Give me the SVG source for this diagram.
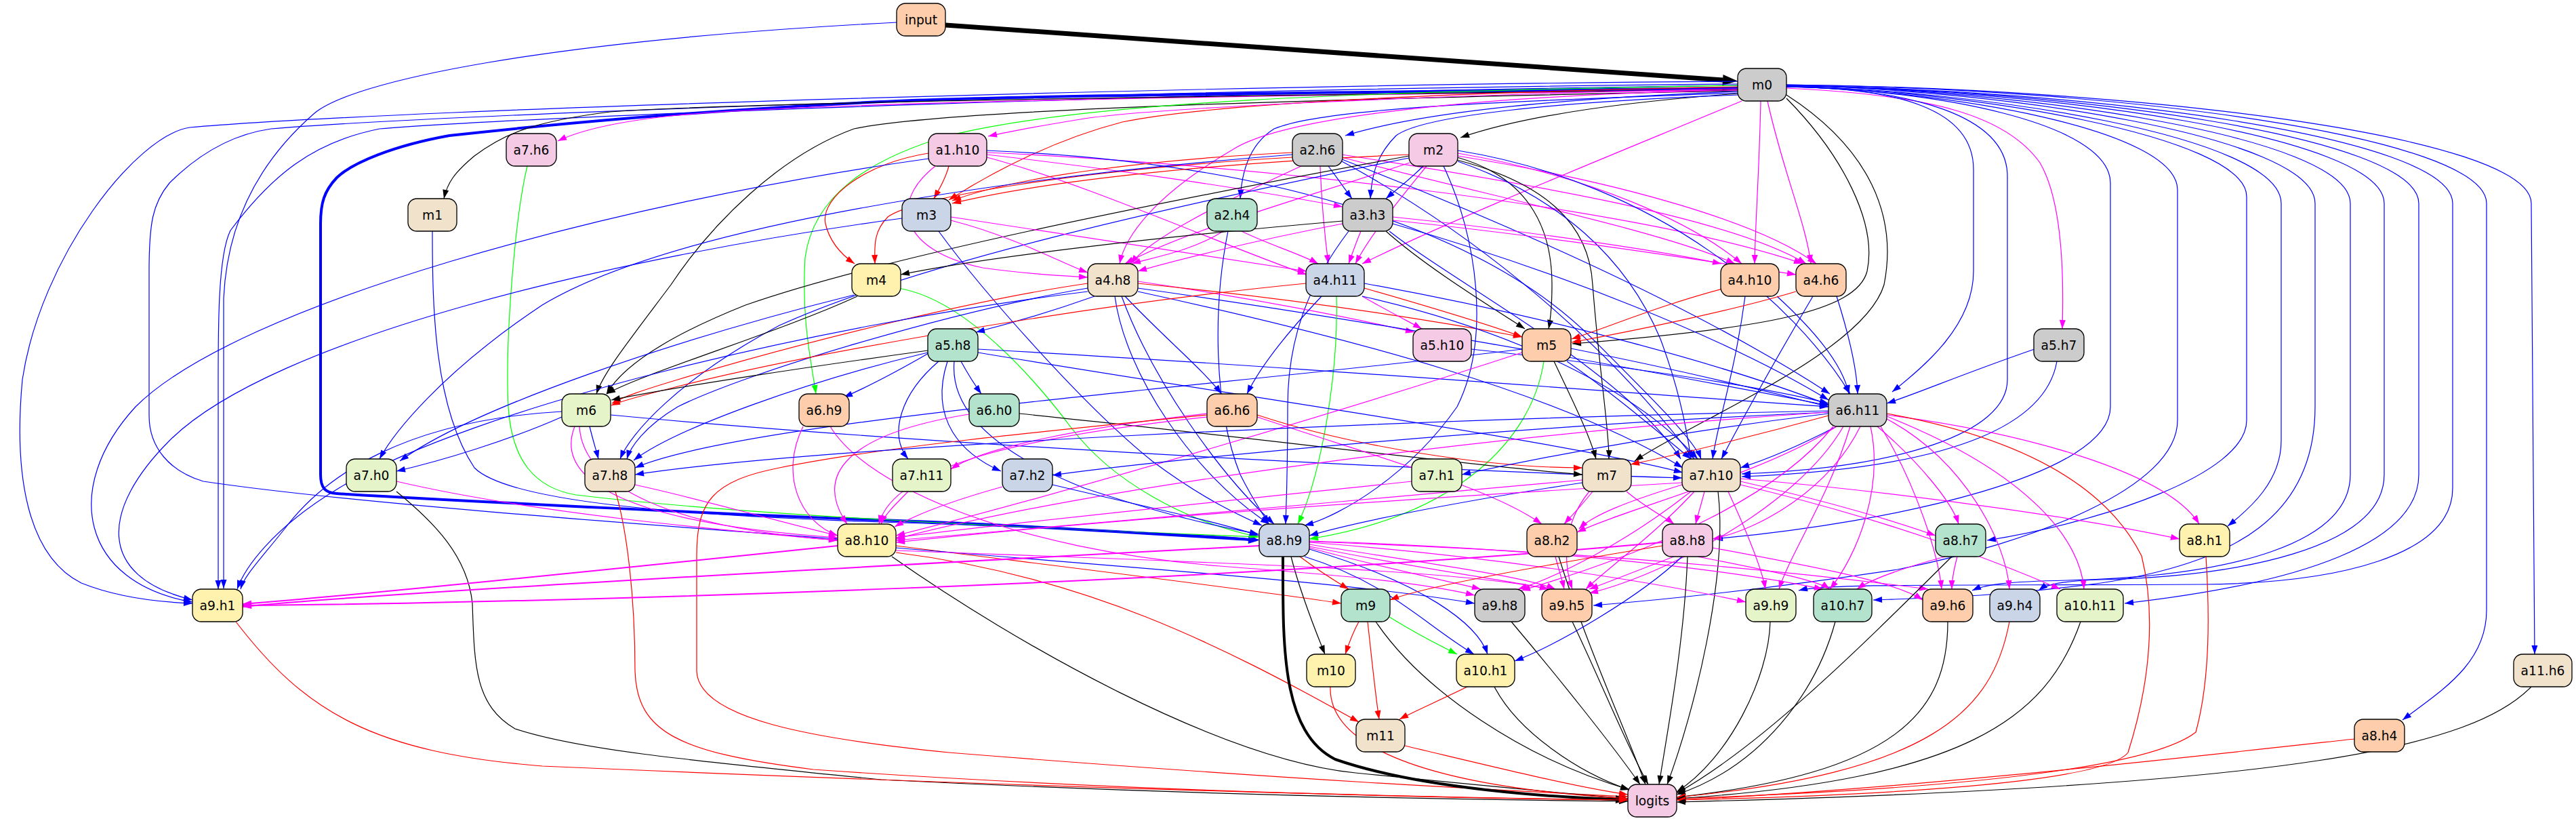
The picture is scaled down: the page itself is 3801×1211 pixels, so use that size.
<svg xmlns="http://www.w3.org/2000/svg" width="3801" height="1211" viewBox="0 0 3801 1211">
<style>
.n rect{stroke:#000;stroke-width:1.33}
.n text{font-family:"DejaVu Sans","Liberation Sans",sans-serif;font-size:18.67px;text-anchor:middle;fill:#000}
#edges path{fill:none;stroke-width:1.2}
#edges .b{stroke:#0000ff;marker-end:url(#ab)}
#edges .k{stroke:#000000;marker-end:url(#ak)}
#edges .r{stroke:#ff0000;marker-end:url(#ar)}
#edges .m{stroke:#ff00ff;marker-end:url(#am)}
#edges .g{stroke:#00ff00;marker-end:url(#ag)}
#edges path.w2{stroke-width:2}
</style>
<defs>
<marker id="ab" markerUnits="userSpaceOnUse" markerWidth="14" markerHeight="10" refX="13" refY="5" orient="auto" overflow="visible"><path d="M0,0.5 L13,5 L0,9.5 z" fill="#0000ff"/></marker>
<marker id="ak" markerUnits="userSpaceOnUse" markerWidth="14" markerHeight="10" refX="13" refY="5" orient="auto" overflow="visible"><path d="M0,0.5 L13,5 L0,9.5 z" fill="#000000"/></marker>
<marker id="ar" markerUnits="userSpaceOnUse" markerWidth="14" markerHeight="10" refX="13" refY="5" orient="auto" overflow="visible"><path d="M0,0.5 L13,5 L0,9.5 z" fill="#ff0000"/></marker>
<marker id="am" markerUnits="userSpaceOnUse" markerWidth="14" markerHeight="10" refX="13" refY="5" orient="auto" overflow="visible"><path d="M0,0.5 L13,5 L0,9.5 z" fill="#ff00ff"/></marker>
<marker id="ag" markerUnits="userSpaceOnUse" markerWidth="14" markerHeight="10" refX="13" refY="5" orient="auto" overflow="visible"><path d="M0,0.5 L13,5 L0,9.5 z" fill="#00ff00"/></marker>
<marker id="akT" markerUnits="userSpaceOnUse" markerWidth="23" markerHeight="17" refX="0" refY="8" orient="auto" overflow="visible"><path d="M0,0 L22,8 L0,16 z" fill="#000000"/></marker>
<marker id="abT" markerUnits="userSpaceOnUse" markerWidth="17" markerHeight="13" refX="0" refY="6" orient="auto" overflow="visible"><path d="M0,0 L16,6 L0,12 z" fill="#0000ff"/></marker>
<marker id="akT2" markerUnits="userSpaceOnUse" markerWidth="19" markerHeight="13" refX="0" refY="6" orient="auto" overflow="visible"><path d="M0,0 L18,6 L0,12 z" fill="#000000"/></marker>
</defs>
<rect width="3801" height="1211" fill="#ffffff"/>
<g id="edges">
<path class="k" style="stroke-width:7;marker-end:url(#akT)" d="M1395,37 L2542,118"/>
<path class="b" d="M1323,33 C800,60 520,120 464,167 C380,240 335,330 330,440 L330,868"/>
<path class="b" style="stroke-width:4;marker-end:url(#abT)" d="M2564,130 C2100,135 1500,140 1300,150 C1000,165 800,185 663,200 C580,215 520,240 497,262 C478,282 473,300 473,330 L473,700 C473,720 480,727 497,728 C700,740 1100,760 1300,767 C1500,774 1700,787 1842,796"/>
<path class="b" d="M2564,120 C1800,125 600,160 280,188 C200,200 60,380 33,560 C20,700 40,820 120,860 C170,880 230,888 284,890"/>
<path class="b" d="M2564,124 C1800,130 700,165 400,190 C330,200 280,240 250,270 C225,300 220,330 220,400 L220,613 C220,660 250,695 300,710 C500,740 900,770 1236,795"/>
<path class="b" d="M2564,126 C1800,135 800,170 560,190 C460,210 400,260 340,340 C320,380 322,500 322,600 L322,869"/>
<path class="m" d="M2564,133 C1900,140 1200,150 1000,170 C900,180 850,195 823,208"/>
<path class="k" d="M2564,132 C1900,140 1100,150 900,165 C780,180 740,200 700,230 C670,255 660,270 655,293"/>
<path class="k" d="M2564,134 C2000,145 1400,160 1260,190 C1150,230 1050,330 990,420 C930,500 890,550 880,581"/>
<path class="g" d="M2564,126 C2000,135 1600,150 1400,200 C1280,235 1200,290 1188,380 C1182,470 1198,540 1204,581"/>
<path class="r" d="M2564,128 C2200,135 1800,150 1656,180 C1560,205 1470,250 1400,295"/>
<path class="m" d="M2564,131 C2100,140 1700,160 1600,175 C1520,188 1480,196 1458,201"/>
<path class="b" d="M2564,135 C2300,145 2100,165 1985,200"/>
<path class="k" d="M2565,138 C2400,150 2250,170 2155,203"/>
<path class="b" d="M2564,137 C2200,150 1950,160 1880,190 C1840,215 1832,260 1830,293"/>
<path class="b" d="M2566,140 C2300,150 2100,170 2060,200 C2030,230 2024,260 2022,293"/>
<path class="m" d="M2564,133 C2200,140 1900,170 1820,220 C1700,290 1660,350 1652,389"/>
<path class="m" d="M2570,149 C2400,220 2150,320 2010,389"/>
<path class="m" d="M2598,149 C2596,250 2590,330 2589,389"/>
<path class="m" d="M2608,149 C2630,250 2665,330 2672,389"/>
<path class="k" d="M2636,145 C2720,230 2770,330 2755,400 C2740,460 2600,485 2320,507"/>
<path class="k" d="M2636,140 C2760,220 2800,320 2780,420 C2750,520 2500,620 2412,680"/>
<path class="m" d="M2636,130 C2850,140 2960,170 3010,240 C3045,300 3045,420 3043,485"/>
<path class="b" d="M2636,128 C2800,130 2912,160 2912,250 L2912,400 C2912,480 2840,540 2792,578"/>
<path class="b" d="M2636,128 C2820,131 2962,170 2962,260 L2962,560 C2962,640 2800,690 2570,699"/>
<path class="b" d="M2636,128 C2850,132 3114,180 3114,270 L3114,600 C3114,700 2800,770 2529,795"/>
<path class="b" d="M2636,128 C2870,133 3213,190 3213,280 L3213,620 C3213,720 3000,800 2800,840 C2600,870 2450,885 2351,893"/>
<path class="b" d="M2636,127 C2900,133 3315,200 3315,290 L3315,620 C3315,700 3100,770 2932,797"/>
<path class="b" d="M2636,127 C2920,133 3366,200 3366,300 L3366,650 C3366,710 3320,750 3287,776"/>
<path class="b" d="M2636,126 C2950,132 3416,200 3416,300 L3416,600 C3416,760 3300,830 3100,860 C2950,880 2850,882 2764,885"/>
<path class="b" d="M2636,126 C2980,132 3468,200 3468,300 L3468,700 C3468,800 3300,850 3050,856 C2960,858 2930,862 2910,871"/>
<path class="b" d="M2636,126 C3020,132 3518,200 3518,300 L3518,700 C3518,810 3300,850 3100,855 C3040,857 3020,862 3008,871"/>
<path class="b" d="M2636,126 C3050,132 3569,200 3569,300 L3569,700 C3569,800 3400,860 3135,890"/>
<path class="b" d="M2636,126 C3080,132 3619,200 3619,300 L3619,720 C3619,820 3450,860 3250,862 C2900,864 2700,860 2654,871"/>
<path class="b" d="M2636,125 C3120,130 3669,200 3669,300 L3669,900 C3669,980 3600,1020 3545,1062"/>
<path class="b" d="M2636,125 C3150,130 3735,200 3735,300 L3740,965"/>
<path class="g" d="M778,245 C760,320 745,500 750,600 C755,680 790,720 850,730 C1100,760 1500,778 1857,792"/>
<path class="r" d="M1400,245 C1395,265 1385,280 1378,293"/>
<path class="r" d="M1370,226 C1280,240 1210,290 1218,330 C1225,360 1245,378 1261,389"/>
<path class="r" d="M1907,232 C1600,250 1350,290 1310,320 C1290,340 1290,360 1291,389"/>
<path class="m" d="M1456,228 C1650,250 1850,280 1981,305"/>
<path class="m" d="M1380,245 C1310,300 1330,370 1450,395 C1520,405 1570,407 1605,409"/>
<path class="m" d="M1456,232 C1600,270 1800,360 1928,405"/>
<path class="m" d="M1456,225 C1800,240 2400,300 2660,389"/>
<path class="b" d="M1456,222 C1900,240 2200,350 2350,500 C2450,600 2500,650 2510,677"/>
<path class="b" d="M1370,234 C900,300 350,450 200,600 C90,720 120,860 284,888"/>
<path class="r" d="M1907,225 C1700,235 1500,260 1405,296"/>
<path class="b" d="M1960,245 C1975,265 1985,280 1995,293"/>
<path class="m" d="M1920,245 C1800,300 1700,350 1668,389"/>
<path class="m" d="M1948,245 C1950,300 1955,350 1960,389"/>
<path class="m" d="M1980,232 C2200,290 2450,340 2560,389"/>
<path class="m" d="M1980,228 C2250,270 2550,320 2665,389"/>
<path class="b" d="M1980,235 C2200,320 2500,450 2700,581"/>
<path class="b" d="M1907,228 C1500,260 1000,330 800,450 C650,550 580,640 560,677"/>
<path class="b" d="M1980,238 C2150,330 2350,480 2500,677"/>
<path class="r" d="M2079,228 C1800,240 1550,265 1405,300"/>
<path class="b" d="M2100,245 C2080,265 2060,280 2045,293"/>
<path class="k" d="M2079,230 C1700,300 1300,380 1100,450 C950,510 910,555 895,581"/>
<path class="b" d="M2079,233 C1700,310 1350,390 1150,480 C1000,560 930,640 915,677"/>
<path class="m" d="M2080,240 C1900,300 1750,340 1660,389"/>
<path class="m" d="M2105,245 C2060,300 2020,350 2000,389"/>
<path class="m" d="M2151,226 C2350,260 2500,330 2570,389"/>
<path class="m" d="M2151,230 C2400,270 2600,330 2680,389"/>
<path class="k" d="M2150,232 C2250,260 2290,330 2290,420 C2290,450 2288,470 2285,485"/>
<path class="k" d="M2150,236 C2280,270 2345,330 2350,420 C2360,550 2375,640 2374,677"/>
<path class="b" d="M2151,222 C2450,270 2650,450 2730,581"/>
<path class="b" d="M2130,245 C2180,350 2200,500 2150,600 C2080,700 1980,760 1925,775"/>
<path class="b" d="M2151,238 C2300,290 2400,380 2450,500 C2480,580 2490,640 2495,677"/>
<path class="b" d="M638,341 C638,450 640,600 700,690 C750,740 1000,760 1300,770 C1600,780 1800,790 1857,796"/>
<path class="m" d="M1403,325 C1500,350 1570,390 1605,402"/>
<path class="m" d="M1403,320 C1600,350 1800,380 1928,400"/>
<path class="b" d="M1385,341 C1450,430 1600,600 1700,680 C1780,740 1840,765 1862,775"/>
<path class="b" d="M1331,322 C900,380 400,500 250,650 C150,750 140,850 284,885"/>
<path class="m" d="M1805,341 C1760,370 1700,380 1670,389"/>
<path class="m" d="M1832,341 C1870,360 1920,375 1945,389"/>
<path class="b" d="M1812,341 C1790,450 1790,600 1830,700 C1850,740 1865,760 1872,773"/>
<path class="k" d="M1981,326 C1700,350 1450,380 1329,405"/>
<path class="m" d="M1981,330 C1850,355 1730,385 1679,400"/>
<path class="m" d="M2008,341 C2000,360 1995,375 1990,389"/>
<path class="m" d="M2055,320 C2250,340 2450,370 2540,389"/>
<path class="m" d="M2055,325 C2300,350 2550,390 2650,405"/>
<path class="k" d="M2045,341 C2100,390 2180,440 2250,485"/>
<path class="b" d="M2055,330 C2300,400 2550,500 2698,590"/>
<path class="b" d="M2050,341 C2150,420 2400,550 2480,677"/>
<path class="b" d="M1990,341 C1930,420 1900,500 1900,600 C1900,700 1898,740 1897,773"/>
<path class="k" d="M1265,437 C1150,490 950,550 895,581"/>
<path class="g" d="M1325,425 C1420,440 1520,550 1580,630 C1640,710 1750,770 1857,792"/>
<path class="b" d="M1260,435 C1000,500 700,600 590,680"/>
<path class="b" d="M1615,437 C1550,460 1480,480 1440,490"/>
<path class="m" d="M1679,415 C1850,440 2000,470 2087,490"/>
<path class="r" d="M1679,418 C1900,440 2100,470 2246,497"/>
<path class="r" d="M1605,418 C1450,440 1200,500 1000,560 C950,575 920,585 903,595"/>
<path class="b" d="M1679,425 C2000,470 2400,540 2698,598"/>
<path class="b" d="M1660,437 C1720,500 1780,550 1802,581"/>
<path class="b" d="M1645,437 C1660,550 1760,700 1873,773"/>
<path class="b" d="M1655,437 C1700,560 1800,700 1880,773"/>
<path class="b" d="M1605,425 C1400,460 1100,550 1000,600 C950,630 930,660 925,677"/>
<path class="b" d="M1605,430 C1200,480 700,600 500,720 C400,780 360,840 350,869"/>
<path class="b" d="M1679,430 C2000,500 2300,580 2483,690"/>
<path class="m" d="M2010,437 C2050,460 2080,475 2098,485"/>
<path class="r" d="M2013,425 C2100,450 2200,480 2246,497"/>
<path class="b" d="M2013,418 C2300,470 2550,540 2698,597"/>
<path class="b" d="M1950,437 C1900,490 1860,540 1840,581"/>
<path class="g" d="M1972,437 C1975,550 1950,700 1915,773"/>
<path class="b" d="M2010,437 C2200,480 2400,560 2505,677"/>
<path class="r" d="M1927,418 C1600,450 1200,520 1000,570 C950,583 920,590 902,598"/>
<path class="r" d="M2545,425 C2450,450 2380,480 2319,500"/>
<path class="b" d="M2622,437 C2680,490 2720,540 2728,581"/>
<path class="b" d="M2575,437 C2560,550 2535,620 2527,677"/>
<path class="r" d="M2650,430 C2550,460 2400,490 2319,505"/>
<path class="b" d="M2710,437 C2730,500 2740,550 2741,581"/>
<path class="b" d="M2675,437 C2620,530 2570,620 2540,677"/>
<path class="b" d="M1372,520 C1320,550 1270,575 1245,586"/>
<path class="b" d="M1418,533 C1430,555 1440,570 1448,581"/>
<path class="b" d="M1385,533 C1330,580 1310,640 1340,677"/>
<path class="b" d="M1398,533 C1370,620 1420,670 1477,695"/>
<path class="b" d="M1408,533 C1400,620 1500,680 1600,720 C1750,770 1820,780 1857,788"/>
<path class="k" d="M1369,517 C1200,540 1000,570 902,590"/>
<path class="b" d="M1369,520 C1200,560 1000,630 935,679"/>
<path class="b" d="M1443,515 C1900,540 2400,580 2698,600"/>
<path class="b" d="M1443,520 C1800,580 2300,650 2483,697"/>
<path class="b" d="M2171,515 C2400,540 2600,570 2698,595"/>
<path class="b" d="M2318,514 C2450,540 2600,575 2698,600"/>
<path class="k" d="M2293,533 C2320,590 2345,640 2355,677"/>
<path class="b" d="M2312,533 C2380,580 2450,640 2495,677"/>
<path class="g" d="M2278,533 C2260,650 2150,760 1932,795"/>
<path class="m" d="M2246,520 C2000,600 1600,720 1322,790"/>
<path class="b" d="M2246,515 C1800,570 1100,620 937,690"/>
<path class="b" d="M3002,515 C2900,550 2830,580 2784,595"/>
<path class="b" d="M3035,533 C3020,620 2900,690 2570,703"/>
<path class="b" d="M829,615 C750,650 650,680 585,695"/>
<path class="b" d="M870,629 C875,650 880,665 883,677"/>
<path class="b" d="M901,612 C1300,650 2000,690 2482,705"/>
<path class="m" d="M848,629 C820,700 900,770 1236,793"/>
<path class="m" d="M855,629 C860,720 1000,780 1236,797"/>
<path class="b" d="M829,607 C600,620 480,700 420,780 C380,830 360,850 355,869"/>
<path class="m" d="M1185,629 C1150,700 1180,770 1236,790"/>
<path class="m" d="M1225,629 C1280,720 1500,810 1800,835 C2000,850 2100,860 2176,878"/>
<path class="k" d="M1504,610 C1800,640 2200,690 2335,700"/>
<path class="m" d="M1430,611 C1250,640 1200,700 1250,773"/>
<path class="m" d="M1781,610 C1600,630 1450,660 1403,692"/>
<path class="m" d="M1781,615 C1550,640 1320,680 1297,773"/>
<path class="r" d="M1855,612 C2000,660 2200,690 2335,690"/>
<path class="r" d="M1781,612 C1500,640 1300,660 1150,690 C1050,710 1028,740 1028,820 L1028,990 C1030,1060 1200,1090 1400,1110 C1900,1150 2200,1165 2402,1175"/>
<path class="m" d="M1855,615 C2050,680 2200,720 2275,773"/>
<path class="b" d="M2710,629 C2650,660 2600,680 2568,690"/>
<path class="r" d="M2698,613 C2600,640 2480,670 2406,685"/>
<path class="b" d="M2698,606 C2000,620 1200,660 937,700"/>
<path class="b" d="M2698,608 C2200,630 1700,680 1553,701"/>
<path class="b" d="M2698,610 C2450,640 2250,680 2157,700"/>
<path class="m" d="M2698,608 C2200,640 1600,720 1322,795"/>
<path class="m" d="M2710,629 C2600,700 2400,750 2327,785"/>
<path class="m" d="M2745,629 C2700,720 2600,780 2527,795"/>
<path class="m" d="M2770,629 C2830,680 2880,740 2890,773"/>
<path class="m" d="M2784,612 C3000,640 3200,700 3245,773"/>
<path class="m" d="M2730,629 C2700,730 2640,820 2625,869"/>
<path class="m" d="M2760,629 C2780,720 2740,820 2700,869"/>
<path class="m" d="M2775,629 C2830,720 2860,820 2865,869"/>
<path class="m" d="M2784,618 C2900,680 2960,800 2965,869"/>
<path class="m" d="M2784,614 C3000,700 3070,800 3075,869"/>
<path class="m" d="M2720,629 C2650,750 2450,850 2345,875"/>
<path class="m" d="M2705,629 C2600,760 2350,840 2245,871"/>
<path class="r" d="M2784,610 C2950,640 3100,700 3160,820 C3180,900 3175,1000 3140,1110 C3100,1160 2700,1175 2475,1180"/>
<path class="m" d="M585,710 C800,760 1100,785 1236,797"/>
<path class="k" d="M585,725 C640,770 690,820 697,890 C700,980 700,1040 760,1075 C850,1105 1000,1120 1300,1150 C1800,1175 2200,1180 2402,1182"/>
<path class="m" d="M937,715 C1050,740 1150,770 1236,790"/>
<path class="r" d="M908,725 C925,780 937,880 937,990 C940,1080 1000,1110 1200,1135 C1700,1170 2200,1178 2402,1180"/>
<path class="m" d="M1340,725 C1320,745 1305,760 1300,773"/>
<path class="m" d="M1479,718 C1400,740 1350,760 1320,777"/>
<path class="b" d="M1553,715 C1700,750 1800,770 1857,790"/>
<path class="m" d="M2083,710 C1800,740 1500,770 1322,793"/>
<path class="b" d="M2335,712 C2150,740 2000,770 1932,790"/>
<path class="m" d="M2335,708 C2000,740 1600,770 1322,797"/>
<path class="m" d="M2350,725 C2330,750 2315,765 2308,773"/>
<path class="m" d="M2400,725 C2430,750 2460,765 2470,773"/>
<path class="m" d="M2345,725 C2300,780 2310,840 2320,869"/>
<path class="m" d="M2482,715 C2400,740 2350,760 2330,780"/>
<path class="m" d="M2515,725 C2510,745 2505,760 2502,773"/>
<path class="m" d="M2568,710 C2700,740 2800,770 2856,790"/>
<path class="m" d="M2568,706 C2850,730 3100,770 3216,795"/>
<path class="m" d="M2482,712 C2000,740 1600,770 1322,800"/>
<path class="m" d="M2495,725 C2400,800 2300,850 2240,869"/>
<path class="m" d="M2500,725 C2440,790 2370,840 2340,869"/>
<path class="m" d="M2550,725 C2580,790 2600,840 2605,869"/>
<path class="m" d="M2568,715 C2800,770 2950,830 3040,869"/>
<path class="k" d="M2535,725 C2550,850 2500,1050 2460,1157"/>
<path class="m w2" d="M1236,805 C900,840 500,880 358,891"/>
<path class="r" d="M1322,805 C1600,840 1850,870 1979,890"/>
<path class="b" d="M1322,808 C1700,840 2000,860 2176,890"/>
<path class="r" d="M1322,815 C1600,850 1800,950 2005,1065"/>
<path class="k" d="M1316,821 C1500,950 1800,1120 2000,1140 C2200,1160 2300,1170 2402,1178"/>
<path class="m" d="M1322,812 C1800,830 2150,840 2285,869"/>
<path class="k" style="stroke-width:4;marker-end:url(#akT2)" d="M1893,821 C1893,950 1890,1080 1970,1120 C2100,1165 2300,1176 2384,1179"/>
<path class="r" d="M1918,821 C1950,845 1975,860 1990,869"/>
<path class="k" d="M1905,821 C1920,880 1945,940 1955,965"/>
<path class="b" d="M1925,821 C2050,860 2100,920 2175,965"/>
<path class="b" d="M1932,810 C2100,860 2180,920 2195,965"/>
<path class="m w2" d="M1858,805 C1000,850 500,880 358,895"/>
<path class="m" d="M1932,808 C2050,840 2150,860 2185,869"/>
<path class="m" d="M1932,803 C2100,830 2250,850 2295,869"/>
<path class="m" d="M1932,806 C2100,840 2250,860 2285,869"/>
<path class="m" d="M1932,800 C2200,820 2450,860 2576,888"/>
<path class="m" d="M1932,798 C2300,810 2550,840 2690,869"/>
<path class="m" d="M1932,799 C2400,815 2700,850 2845,869"/>
<path class="k" d="M2300,821 C2340,950 2400,1080 2428,1157"/>
<path class="m" d="M2295,821 C2300,840 2305,855 2308,869"/>
<path class="r" d="M2453,805 C2300,830 2100,865 2051,885"/>
<path class="b" d="M2482,821 C2420,880 2300,950 2235,975"/>
<path class="k" d="M2490,821 C2485,950 2460,1080 2448,1157"/>
<path class="m" d="M2470,821 C2420,840 2370,860 2345,869"/>
<path class="m" d="M2505,821 C2600,840 2680,855 2700,869"/>
<path class="m" d="M2527,808 C2700,840 2800,860 2837,885"/>
<path class="m w2" d="M2453,800 C1800,860 800,890 358,893"/>
<path class="k" d="M2880,821 C2750,950 2600,1100 2474,1170"/>
<path class="m" d="M2870,821 C2800,840 2760,855 2740,869"/>
<path class="m" d="M2888,821 C2883,840 2880,855 2880,869"/>
<path class="r" d="M3255,821 C3260,900 3262,1000 3240,1080 C3150,1150 2700,1170 2474,1178"/>
<path class="r" d="M348,917 C450,1050 550,1110 800,1130 C1500,1160 2000,1175 2402,1180"/>
<path class="r" d="M2005,917 C1995,935 1990,950 1985,965"/>
<path class="g" d="M2050,910 C2090,935 2120,950 2150,965"/>
<path class="r" d="M2018,917 C2025,980 2030,1030 2035,1061"/>
<path class="k" d="M2030,917 C2100,1020 2250,1120 2405,1165"/>
<path class="k" d="M2230,917 C2300,1000 2380,1100 2420,1157"/>
<path class="k" d="M2320,917 C2360,1000 2400,1100 2432,1157"/>
<path class="k" d="M2612,917 C2610,1000 2550,1120 2474,1168"/>
<path class="k" d="M2708,917 C2680,1020 2600,1130 2474,1172"/>
<path class="k" d="M2874,917 C2874,1050 2800,1140 2474,1176"/>
<path class="r" d="M2965,917 C2940,1050 2850,1140 2474,1176"/>
<path class="k" d="M3070,917 C3020,1060 2900,1150 2474,1178"/>
<path class="r" d="M1963,1013 C1960,1100 2100,1160 2402,1178"/>
<path class="r" d="M2165,1013 C2120,1035 2085,1050 2065,1061"/>
<path class="k" d="M2205,1013 C2240,1080 2330,1140 2404,1165"/>
<path class="r" d="M2073,1100 C2200,1130 2320,1160 2402,1172"/>
<path class="r" d="M3474,1090 C3200,1120 2800,1165 2474,1180"/>
<path class="k" d="M3735,1013 C3650,1100 3400,1160 2474,1183"/>
</g>
<g id="input" class="n"><rect x="1323" y="5" width="72" height="48" rx="13" fill="#fdcdac"/><text x="1359" y="35.5">input</text></g>
<g id="m0" class="n"><rect x="2564" y="101" width="72" height="48" rx="13" fill="#cccccc"/><text x="2600" y="131.5">m0</text></g>
<g id="a7.h6" class="n"><rect x="747" y="197" width="74" height="48" rx="13" fill="#f4cae4"/><text x="784" y="227.5">a7.h6</text></g>
<g id="a1.h10" class="n"><rect x="1370" y="197" width="86" height="48" rx="13" fill="#f4cae4"/><text x="1413" y="227.5">a1.h10</text></g>
<g id="a2.h6" class="n"><rect x="1907" y="197" width="74" height="48" rx="13" fill="#cccccc"/><text x="1944" y="227.5">a2.h6</text></g>
<g id="m2" class="n"><rect x="2079" y="197" width="72" height="48" rx="13" fill="#f4cae4"/><text x="2115" y="227.5">m2</text></g>
<g id="m1" class="n"><rect x="602" y="293" width="72" height="48" rx="13" fill="#f1e2cc"/><text x="638" y="323.5">m1</text></g>
<g id="m3" class="n"><rect x="1331" y="293" width="72" height="48" rx="13" fill="#cbd5e8"/><text x="1367" y="323.5">m3</text></g>
<g id="a2.h4" class="n"><rect x="1781" y="293" width="74" height="48" rx="13" fill="#b3e2cd"/><text x="1818" y="323.5">a2.h4</text></g>
<g id="a3.h3" class="n"><rect x="1981" y="293" width="74" height="48" rx="13" fill="#cccccc"/><text x="2018" y="323.5">a3.h3</text></g>
<g id="m4" class="n"><rect x="1257" y="389" width="72" height="48" rx="13" fill="#fff2ae"/><text x="1293" y="419.5">m4</text></g>
<g id="a4.h8" class="n"><rect x="1605" y="389" width="74" height="48" rx="13" fill="#f1e2cc"/><text x="1642" y="419.5">a4.h8</text></g>
<g id="a4.h11" class="n"><rect x="1927" y="389" width="86" height="48" rx="13" fill="#cbd5e8"/><text x="1970" y="419.5">a4.h11</text></g>
<g id="a4.h10" class="n"><rect x="2539" y="389" width="86" height="48" rx="13" fill="#fdcdac"/><text x="2582" y="419.5">a4.h10</text></g>
<g id="a4.h6" class="n"><rect x="2650" y="389" width="74" height="48" rx="13" fill="#fdcdac"/><text x="2687" y="419.5">a4.h6</text></g>
<g id="a5.h8" class="n"><rect x="1369" y="485" width="74" height="48" rx="13" fill="#b3e2cd"/><text x="1406" y="515.5">a5.h8</text></g>
<g id="a5.h10" class="n"><rect x="2085" y="485" width="86" height="48" rx="13" fill="#f4cae4"/><text x="2128" y="515.5">a5.h10</text></g>
<g id="m5" class="n"><rect x="2246" y="485" width="72" height="48" rx="13" fill="#fdcdac"/><text x="2282" y="515.5">m5</text></g>
<g id="a5.h7" class="n"><rect x="3001" y="485" width="74" height="48" rx="13" fill="#cccccc"/><text x="3038" y="515.5">a5.h7</text></g>
<g id="m6" class="n"><rect x="829" y="581" width="72" height="48" rx="13" fill="#e6f5c9"/><text x="865" y="611.5">m6</text></g>
<g id="a6.h9" class="n"><rect x="1179" y="581" width="74" height="48" rx="13" fill="#fdcdac"/><text x="1216" y="611.5">a6.h9</text></g>
<g id="a6.h0" class="n"><rect x="1430" y="581" width="74" height="48" rx="13" fill="#b3e2cd"/><text x="1467" y="611.5">a6.h0</text></g>
<g id="a6.h6" class="n"><rect x="1781" y="581" width="74" height="48" rx="13" fill="#fdcdac"/><text x="1818" y="611.5">a6.h6</text></g>
<g id="a6.h11" class="n"><rect x="2698" y="581" width="86" height="48" rx="13" fill="#cccccc"/><text x="2741" y="611.5">a6.h11</text></g>
<g id="a7.h0" class="n"><rect x="511" y="677" width="74" height="48" rx="13" fill="#e6f5c9"/><text x="548" y="707.5">a7.h0</text></g>
<g id="a7.h8" class="n"><rect x="863" y="677" width="74" height="48" rx="13" fill="#f1e2cc"/><text x="900" y="707.5">a7.h8</text></g>
<g id="a7.h11" class="n"><rect x="1317" y="677" width="86" height="48" rx="13" fill="#e6f5c9"/><text x="1360" y="707.5">a7.h11</text></g>
<g id="a7.h2" class="n"><rect x="1479" y="677" width="74" height="48" rx="13" fill="#cbd5e8"/><text x="1516" y="707.5">a7.h2</text></g>
<g id="a7.h1" class="n"><rect x="2083" y="677" width="74" height="48" rx="13" fill="#e6f5c9"/><text x="2120" y="707.5">a7.h1</text></g>
<g id="m7" class="n"><rect x="2335" y="677" width="72" height="48" rx="13" fill="#f1e2cc"/><text x="2371" y="707.5">m7</text></g>
<g id="a7.h10" class="n"><rect x="2482" y="677" width="86" height="48" rx="13" fill="#f1e2cc"/><text x="2525" y="707.5">a7.h10</text></g>
<g id="a8.h10" class="n"><rect x="1236" y="773" width="86" height="48" rx="13" fill="#fff2ae"/><text x="1279" y="803.5">a8.h10</text></g>
<g id="a8.h9" class="n"><rect x="1858" y="773" width="74" height="48" rx="13" fill="#cbd5e8"/><text x="1895" y="803.5">a8.h9</text></g>
<g id="a8.h2" class="n"><rect x="2253" y="773" width="74" height="48" rx="13" fill="#fdcdac"/><text x="2290" y="803.5">a8.h2</text></g>
<g id="a8.h8" class="n"><rect x="2453" y="773" width="74" height="48" rx="13" fill="#f4cae4"/><text x="2490" y="803.5">a8.h8</text></g>
<g id="a8.h7" class="n"><rect x="2856" y="773" width="74" height="48" rx="13" fill="#b3e2cd"/><text x="2893" y="803.5">a8.h7</text></g>
<g id="a8.h1" class="n"><rect x="3216" y="773" width="74" height="48" rx="13" fill="#fff2ae"/><text x="3253" y="803.5">a8.h1</text></g>
<g id="a9.h1" class="n"><rect x="284" y="869" width="74" height="48" rx="13" fill="#fff2ae"/><text x="321" y="899.5">a9.h1</text></g>
<g id="m9" class="n"><rect x="1979" y="869" width="72" height="48" rx="13" fill="#b3e2cd"/><text x="2015" y="899.5">m9</text></g>
<g id="a9.h8" class="n"><rect x="2176" y="869" width="74" height="48" rx="13" fill="#cccccc"/><text x="2213" y="899.5">a9.h8</text></g>
<g id="a9.h5" class="n"><rect x="2275" y="869" width="74" height="48" rx="13" fill="#fdcdac"/><text x="2312" y="899.5">a9.h5</text></g>
<g id="a9.h9" class="n"><rect x="2576" y="869" width="74" height="48" rx="13" fill="#e6f5c9"/><text x="2613" y="899.5">a9.h9</text></g>
<g id="a10.h7" class="n"><rect x="2676" y="869" width="86" height="48" rx="13" fill="#b3e2cd"/><text x="2719" y="899.5">a10.h7</text></g>
<g id="a9.h6" class="n"><rect x="2837" y="869" width="74" height="48" rx="13" fill="#fdcdac"/><text x="2874" y="899.5">a9.h6</text></g>
<g id="a9.h4" class="n"><rect x="2936" y="869" width="74" height="48" rx="13" fill="#cbd5e8"/><text x="2973" y="899.5">a9.h4</text></g>
<g id="a10.h11" class="n"><rect x="3035" y="869" width="98" height="48" rx="13" fill="#e6f5c9"/><text x="3084" y="899.5">a10.h11</text></g>
<g id="m10" class="n"><rect x="1928" y="965" width="72" height="48" rx="13" fill="#fff2ae"/><text x="1964" y="995.5">m10</text></g>
<g id="a10.h1" class="n"><rect x="2149" y="965" width="86" height="48" rx="13" fill="#fff2ae"/><text x="2192" y="995.5">a10.h1</text></g>
<g id="a11.h6" class="n"><rect x="3709" y="965" width="86" height="48" rx="13" fill="#f1e2cc"/><text x="3752" y="995.5">a11.h6</text></g>
<g id="m11" class="n"><rect x="2001" y="1061" width="72" height="48" rx="13" fill="#f1e2cc"/><text x="2037" y="1091.5">m11</text></g>
<g id="a8.h4" class="n"><rect x="3474" y="1061" width="74" height="48" rx="13" fill="#fdcdac"/><text x="3511" y="1091.5">a8.h4</text></g>
<g id="logits" class="n"><rect x="2402" y="1157" width="72" height="48" rx="13" fill="#f4cae4"/><text x="2438" y="1187.5">logits</text></g>
</svg>
